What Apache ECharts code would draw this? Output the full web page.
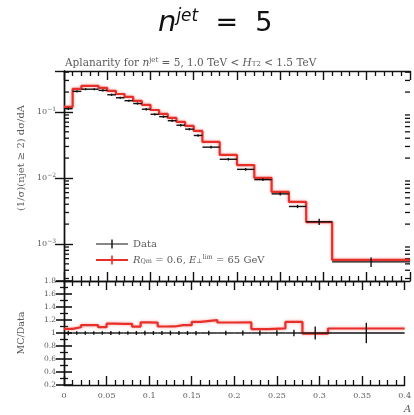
<!DOCTYPE html>
<html><head><meta charset="utf-8">
<script src="https://cdn.jsdelivr.net/npm/echarts@6/dist/echarts.min.js"></script>
<style>html,body{margin:0;padding:0;background:#fff}#c{width:414px;height:415px}</style>
</head><body><div id="c"></div>
<script>
// ---- data ----
const binEdges = [0,0.01,0.02,0.03,0.04,0.05,0.06,0.07,0.08,0.09,0.10,0.11,0.12,0.13,0.14,0.15,0.16,0.18,0.20,0.22,0.24,0.26,0.28,0.31,0.40];
const dataValues = [0.112,0.205,0.221,0.221,0.212,0.182,0.164,0.148,0.134,0.110,0.0922,0.0848,0.0737,0.0629,0.0548,0.0440,0.0293,0.0192,0.0135,0.00943,0.00574,0.00370,0.00217,0.000536];
const dataErrors = [0.003,0.004,0.004,0.004,0.004,0.004,0.003,0.003,0.003,0.003,0.002,0.002,0.002,0.0015,0.0013,0.0011,0.0008,0.0005,0.0004,0.0003,0.0002,0.00015,0.0002,0.00008];
const mcValues = [0.119,0.223,0.248,0.248,0.231,0.208,0.187,0.169,0.147,0.128,0.107,0.0933,0.0811,0.0705,0.0614,0.0515,0.0351,0.0223,0.0157,0.0100,0.00614,0.00433,0.00215,0.000573];
const xTickValues = [0,0.05,0.1,0.15,0.2,0.25,0.3,0.35,0.4];
const ratioTickValues = [0.2,0.4,0.6,0.8,1,1.2,1.4,1.6,1.8];
const mcName = 'MC';

const FONT = 'DejaVu Serif';
const TXT = '#5a5a5a';
const AX = '#111';
const RED = '#e8302a';

// histogram data for series
const nb = dataValues.length;
const mcStep = mcValues.map((v,i)=>[binEdges[i], v]).concat([[binEdges[nb], mcValues[nb-1]]]);
const ratioValues = mcValues.map((v,i)=> v / dataValues[i]);
const ratioStep = ratioValues.map((v,i)=>[binEdges[i], v]).concat([[binEdges[nb], ratioValues[nb-1]]]);
const dataBins = dataValues.map((v,i)=>[binEdges[i], binEdges[i+1], v, dataErrors[i]]);
const ratioBins = dataValues.map((v,i)=>[binEdges[i], binEdges[i+1], 1, dataErrors[i]/v]);

const yMin = 2.75e-4, yMax = 0.417;
const logMinor = [];
for (let e=-4; e<=-1; e++) for (let k=2; k<=9; k++) { const v = k*Math.pow(10,e); if (v>yMin && v<yMax) logMinor.push([v]); }

function errRender(params, api){
  const x0 = api.value(0), x1 = api.value(1), y = api.value(2), e = api.value(3);
  const a = api.coord([x0,y]), b = api.coord([x1,y]);
  const xc = (x0+x1)/2;
  const t = api.coord([xc, y+e]), d = api.coord([xc, Math.max(y-e, 1e-9)]);
  const st = {stroke: AX, lineWidth: 1.4};
  return {type:'group', children:[
    {type:'line', shape:{x1:a[0],y1:a[1],x2:b[0],y2:b[1]}, style:st},
    {type:'line', shape:{x1:t[0],y1:t[1]-0.5,x2:d[0],y2:d[1]+0.5}, style:st}
  ]};
}

function xAxisCfg(grid, pos, labels){
  return {type:'value', gridIndex:grid, position:pos, min:0, max:0.4, interval:0.05,
    axisLine:{show:true, onZero:false, lineStyle:{color:AX, width:1.4}},
    axisTick:{show:true, inside:true, length:9, lineStyle:{color:AX, width:1.4}},
    minorTick:{show:true, splitNumber:5, length:5, lineStyle:{color:AX, width:1.3}},
    splitLine:{show:false}, minorSplitLine:{show:false},
    axisLabel:{show:labels, color:TXT, fontFamily:FONT, fontSize:8, margin:7,
      formatter: v => xTickValues.includes(+v.toFixed(2)) ? String(+v.toFixed(2)) : ''}
  };
}
function logAxisCfg(pos, labels){
  return {type:'log', logBase:10, gridIndex:0, position:pos, min:yMin, max:yMax,
    axisLine:{show:true, lineStyle:{color:AX, width:1.4}},
    axisTick:{show:true, inside:true, length:9, lineStyle:{color:AX, width:1.4}},
    splitLine:{show:false},
    axisLabel:{show:labels, showMinLabel:false, showMaxLabel:false, color:TXT, fontFamily:FONT, fontSize:8, margin:8,
      formatter: v => '{b|10}{s|−' + Math.round(-Math.log10(v)) + '}',
      rich:{b:{fontFamily:FONT, fontSize:8, color:TXT}, s:{fontFamily:FONT, fontSize:6, color:TXT, padding:[0,0,6,0]}}}
  };
}
function ratioAxisCfg(pos, labels){
  return {type:'value', gridIndex:1, position:pos, min:0.2, max:1.8, interval:0.2,
    axisLine:{show:true, lineStyle:{color:AX, width:1.4}},
    axisTick:{show:true, inside:true, length:8, lineStyle:{color:AX, width:1.6}},
    minorTick:{show:true, splitNumber:2, length:4, lineStyle:{color:AX, width:1.3}},
    splitLine:{show:false}, minorSplitLine:{show:false},
    axisLabel:{show:labels, color:TXT, fontFamily:FONT, fontSize:7.5, margin:8,
      formatter: v => ratioTickValues.some(t=>Math.abs(t-v)<1e-6) ? String(+v.toFixed(1)) : ''}
  };
}

const chart = echarts.init(document.getElementById('c'), null, {renderer:'canvas'});
chart.setOption({
  animation:false,
  backgroundColor:'#fff',
  title:[
    {text:'{n|n}{s|jet}{e|  =  5}', left:158, top:8, padding:0,
     textStyle:{fontWeight:'normal', rich:{
       n:{fontFamily:'DejaVu Sans', fontSize:29, fontStyle:'italic', fontWeight:'normal', color:'#111'},
       s:{fontFamily:'DejaVu Sans', fontSize:17, fontStyle:'italic', fontWeight:'normal', color:'#111', padding:[0,0,14,0]},
       e:{fontFamily:'DejaVu Sans', fontSize:27, fontWeight:'normal', color:'#111'}}}},
    {text:'Aplanarity for {i|n}{p|jet} = 5, 1.0 TeV < {i|H}{q|T2} < 1.5 TeV', left:65, top:57, padding:0,
     textStyle:{fontFamily:FONT, fontSize:10.5, fontWeight:'normal', color:TXT,
       rich:{i:{fontFamily:FONT, fontSize:10.5, fontStyle:'italic', color:TXT},
             p:{fontFamily:FONT, fontSize:7, color:TXT, padding:[0,0,5,0]},
             q:{fontFamily:FONT, fontSize:7, color:TXT, padding:[3,0,0,0]}}}}
  ],
  grid:[{left:64, top:71, width:346, height:210}, {left:64, top:281, width:346, height:104}],
  xAxis:[xAxisCfg(0,'bottom',false), xAxisCfg(0,'top',false), xAxisCfg(1,'bottom',true), xAxisCfg(1,'top',false)],
  yAxis:[logAxisCfg('left',true), logAxisCfg('right',false), ratioAxisCfg('left',true), ratioAxisCfg('right',false)],
  legend:{orient:'vertical', left:96, top:239, itemGap:5, itemWidth:32, itemHeight:10, padding:0,
    data:[
      {name:'Data', icon:'path://M0,4.4 L32,4.4 L32,5.6 L0,5.6 Z M15.3,0.5 L16.7,0.5 L16.7,9.5 L15.3,9.5 Z', itemStyle:{color:AX}},
      {name:mcName, icon:'path://M0,4.1 L32,4.1 L32,5.9 L0,5.9 Z M15.2,0.5 L16.8,0.5 L16.8,9.5 L15.2,9.5 Z', itemStyle:{color:RED}}
    ],
    formatter: n => n==='Data' ? 'Data' : '{i|R}{b|Qm} = 0.6, {i|E}{b|⊥}{p|lim} = 65 GeV',
    textStyle:{fontFamily:FONT, fontSize:10, color:TXT,
      rich:{i:{fontFamily:FONT, fontSize:10, fontStyle:'italic', color:TXT},
            b:{fontFamily:FONT, fontSize:6.5, color:TXT, padding:[3,0,0,0]},
            p:{fontFamily:FONT, fontSize:6.5, color:TXT, padding:[0,0,5,0]}}}
  },
  graphic:[
    {type:'text', x:21, y:158, rotation:Math.PI/2, style:{text:'(1/σ)(njet ≥ 2) dσ/dA', fontFamily:FONT, fontSize:10, fill:TXT, align:'center', verticalAlign:'middle'}},
    {type:'text', x:22, y:333, rotation:Math.PI/2, style:{text:'MC/Data', fontFamily:FONT, fontSize:9.5, fill:TXT, align:'center', verticalAlign:'middle'}},
    {type:'text', x:404, y:404, style:{text:'A', fontFamily:FONT, fontSize:10, fontStyle:'italic', fill:TXT}}
  ],
  series:[
    {type:'custom', name:'logMinorTicks', xAxisIndex:0, yAxisIndex:0, silent:true, data:logMinor,
     renderItem:(p, api)=>{ const v = api.value(0); const a = api.coord([0,v]); const b = api.coord([0.4,v]);
       const st = {stroke:AX, lineWidth:1.3};
       return {type:'group', children:[
         {type:'line', shape:{x1:a[0],y1:a[1],x2:a[0]+5,y2:a[1]}, style:st},
         {type:'line', shape:{x1:b[0]-5,y1:b[1],x2:b[0],y2:b[1]}, style:st}]}; }},
    {type:'line', name:mcName, xAxisIndex:0, yAxisIndex:0, step:'end', data:mcStep, showSymbol:false, z:3,
     lineStyle:{color:RED, width:2.2, shadowColor:'rgba(240,90,90,0.6)', shadowBlur:3}, itemStyle:{color:RED}},
    {type:'custom', name:'Data', xAxisIndex:0, yAxisIndex:0, data:dataBins, renderItem:errRender, z:4, itemStyle:{color:AX}},
    {type:'line', name:mcName, xAxisIndex:2, yAxisIndex:2, step:'end', data:ratioStep, showSymbol:false, z:3,
     lineStyle:{color:RED, width:2.2, shadowColor:'rgba(240,90,90,0.6)', shadowBlur:3}},
    {type:'custom', name:'Data', xAxisIndex:2, yAxisIndex:2, data:ratioBins, renderItem:errRender, z:4, itemStyle:{color:AX}}
  ]
});
</script></body></html>
